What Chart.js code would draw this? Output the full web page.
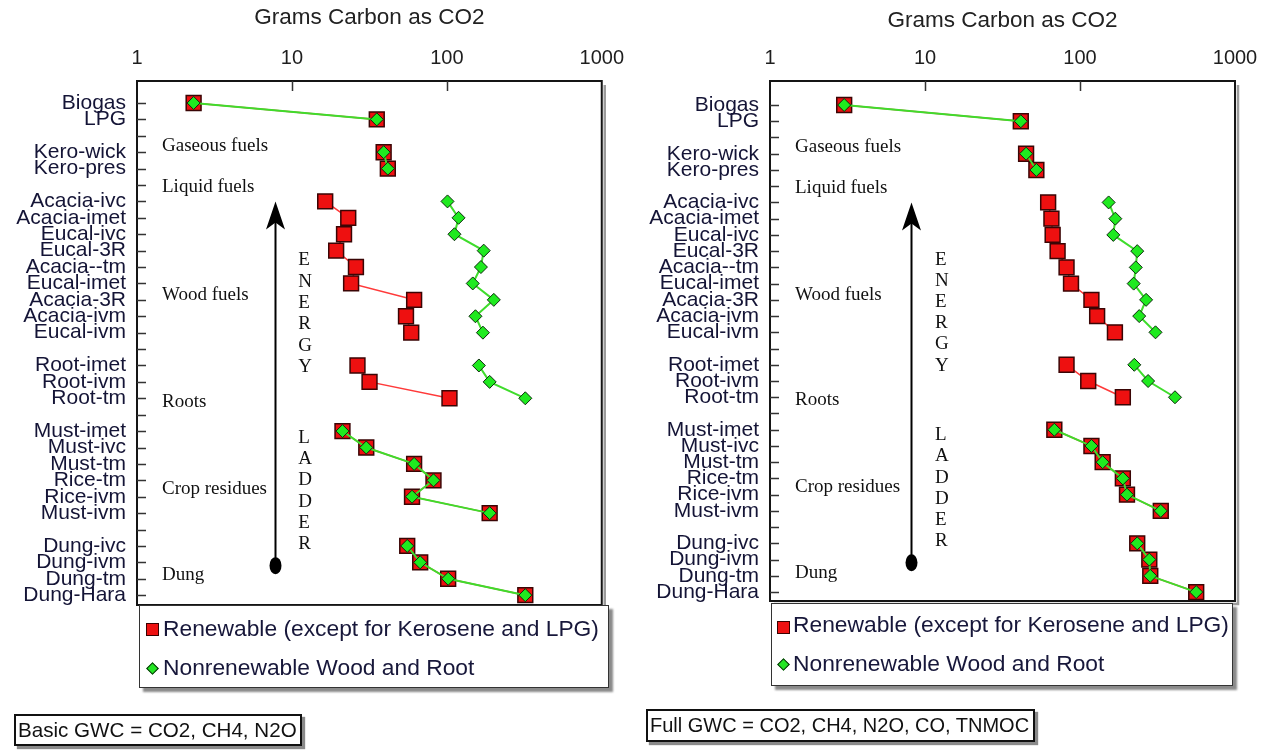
<!DOCTYPE html>
<html>
<head>
<meta charset="utf-8">
<script src="https://cdn.jsdelivr.net/npm/chart.js@4.4.1/dist/chart.umd.min.js"></script>
<style>
  body { margin: 0; background: #fff; width: 1270px; height: 750px; position: relative; overflow: hidden;
         font-family: 'Liberation Sans', Arial, sans-serif; }
  canvas { position: absolute; top: 0; }
  .legend { position: absolute; background: #fff; border: 1.5px solid #333; box-shadow: 4px 4px 2px #8a8a8a; box-sizing: border-box; }
  .item { position: absolute; font-size: 22.8px; color: #17173a; white-space: nowrap; line-height: 24px; height: 24px; }
  .sq { position: absolute; width: 13px; height: 13px; background: #ee1111; border: 1px solid #3a0000; box-sizing: border-box; }
  .dm { position: absolute; width: 9px; height: 9px; background: #22e622; border: 1px solid #0a2a0a; transform: rotate(45deg); box-sizing: border-box; }
  .gwc { position: absolute; background: #fff; border: 2px solid #111; box-shadow: 3px 3px 1px #8a8a8a; box-sizing: border-box;
         font-size: 20.6px; color: #111; line-height: 28px; padding-left: 2px; white-space: nowrap; }
</style>
</head>
<body>
<canvas id="basic" width="635" height="750" style="left:0"></canvas>
<canvas id="full" width="635" height="750" style="left:635px"></canvas>

<div class="legend" style="left:139px;top:605px;width:470px;height:83px">
  <div class="sq" style="left:6px;top:17px"></div>
  <div class="item" style="left:23px;top:10px">Renewable (except for Kerosene and LPG)</div>
  <div class="dm" style="left:8px;top:58px"></div>
  <div class="item" style="left:23px;top:49px">Nonrenewable Wood and Root</div>
</div>
<div class="legend" style="left:771px;top:603px;width:462px;height:83px">
  <div class="sq" style="left:5px;top:17px"></div>
  <div class="item" style="left:21px;top:8px">Renewable (except for Kerosene and LPG)</div>
  <div class="dm" style="left:7px;top:56px"></div>
  <div class="item" style="left:21px;top:47px">Nonrenewable Wood and Root</div>
</div>

<div class="gwc" style="left:14px;top:714px;width:288px;height:32px">Basic GWC = CO2, CH4, N2O</div>
<div class="gwc" style="left:646px;top:709px;width:389px;height:33px;font-size:20px">Full GWC = CO2, CH4, N2O, CO, TNMOC</div>

<script>
// Fuel rows, top to bottom; empty strings are spacer rows between fuel groups
const fuelLabels = ['Biogas', 'LPG', '', 'Kero-wick', 'Kero-pres', '',
  'Acacia-ivc', 'Acacia-imet', 'Eucal-ivc', 'Eucal-3R', 'Acacia--tm', 'Eucal-imet', 'Acacia-3R', 'Acacia-ivm', 'Eucal-ivm', '',
  'Root-imet', 'Root-ivm', 'Root-tm', '',
  'Must-imet', 'Must-ivc', 'Must-tm', 'Rice-tm', 'Rice-ivm', 'Must-ivm', '',
  'Dung-ivc', 'Dung-ivm', 'Dung-tm', 'Dung-Hara'];

const xTickValues = [1, 10, 100, 1000];

// Basic GWC (CO2, CH4, N2O), grams carbon as CO2
const basicRenewable = [2.32, 35.3, null, 39.1, 41.6, null,
  16.4, 23.1, 21.7, 19.3, 25.9, 24.1, 61.5, 54.5, 58.9, null,
  26.5, 31.7, 104, null,
  21.2, 30.2, 61.5, 82, 59.6, 189, null,
  55.5, 67.3, 102, 321];
const basicNonrenewable = [2.32, 35.3, null, 39.1, 41.6, null,
  101, 119, 112, 173, 166, 147, 201, 153, 171, null,
  161, 189, 321, null,
  21.2, 30.2, 61.5, 82, 59.6, 189, null,
  55.5, 67.3, 102, 321];

// Full GWC (CO2, CH4, N2O, CO, TNMOC), grams carbon as CO2
const fullRenewable = [3.01, 41.5, null, 44.9, 52.3, null,
  62.3, 65.4, 66.6, 71.7, 81.9, 87.5, 118.5, 129, 168, null,
  81.9, 113, 189, null,
  68.3, 118.5, 140, 189, 201, 332, null,
  234, 280, 284, 562];
const fullNonrenewable = [3.01, 41.5, null, 44.9, 52.3, null,
  153, 169, 164, 234, 229, 222, 267, 241, 307, null,
  224, 275, 410, null,
  68.3, 118.5, 140, 189, 201, 332, null,
  234, 280, 284, 562];

const groupNotes = [
  { text: 'Gaseous fuels', row: 2.6 },
  { text: 'Liquid fuels', row: 5.1 },
  { text: 'Wood fuels', row: 11.7 },
  { text: 'Roots', row: 18.2 },
  { text: 'Crop residues', row: 23.5 },
  { text: 'Dung', row: 28.8 }
];
const ladderWords = ['ENERGY', 'LADDER'];

const SANS = "'Liberation Sans', Arial, sans-serif";
const SERIF = "'Liberation Serif', 'Times New Roman', serif";

const toPoints = arr => arr.map((v, i) => ({ x: v, y: i }));

// Frame with shadow, inward tick marks, group notes and the energy ladder arrow
const panelDecor = {
  id: 'panelDecor',
  beforeDatasetsDraw(chart, args, opts) {
    const { ctx, chartArea: { left, top, right, bottom }, scales: { x, y } } = chart;
    ctx.save();
    ctx.strokeStyle = '#9c9c9c';
    ctx.lineWidth = 2.5;
    ctx.beginPath();
    ctx.moveTo(right + 3, top + 4);
    ctx.lineTo(right + 3, bottom + 3);
    ctx.lineTo(left + 4, bottom + 3);
    ctx.stroke();
    ctx.strokeStyle = '#151515';
    ctx.lineWidth = 2;
    ctx.strokeRect(left, top, right - left, bottom - top);

    ctx.lineWidth = 1.5;
    ctx.strokeStyle = '#333';
    ctx.beginPath();
    y.ticks.forEach(t => {
      const py = Math.round(y.getPixelForValue(t.value)) + 0.5;
      ctx.moveTo(left, py); ctx.lineTo(left + 9, py);
    });
    x.ticks.forEach(t => {
      if (t.value === x.min || t.value === x.max) return;
      const px = Math.round(x.getPixelForValue(t.value)) + 0.5;
      ctx.moveTo(px, top); ctx.lineTo(px, top + 10);
    });
    ctx.stroke();

    ctx.fillStyle = '#111';
    ctx.font = '19px ' + SERIF;
    ctx.textAlign = 'left';
    ctx.textBaseline = 'middle';
    const nx = x.getPixelForValue(opts.noteX);
    groupNotes.forEach(n => ctx.fillText(n.text, nx, y.getPixelForValue(n.row)));

    const lx = x.getPixelForValue(opts.letterX);
    let row = opts.letterStart;
    ladderWords.forEach((w, wi) => {
      if (wi > 0) row += opts.wordGap;
      [...w].forEach(ch => { ctx.fillText(ch, lx, y.getPixelForValue(row)); row += opts.letterStep; });
    });

    const ax = Math.round(x.getPixelForValue(opts.arrowX)) + 0.5;
    const tipY = y.getPixelForValue(opts.arrowTop);
    const baseY = y.getPixelForValue(opts.arrowBottom);
    ctx.strokeStyle = '#000';
    ctx.lineWidth = 2;
    ctx.beginPath(); ctx.moveTo(ax, tipY + 18); ctx.lineTo(ax, baseY); ctx.stroke();
    ctx.fillStyle = '#000';
    ctx.beginPath();
    ctx.moveTo(ax, tipY);
    ctx.lineTo(ax + 9.5, tipY + 28);
    ctx.lineTo(ax, tipY + 21);
    ctx.lineTo(ax - 9.5, tipY + 28);
    ctx.closePath();
    ctx.fill();
    ctx.beginPath();
    ctx.ellipse(ax, baseY, 6, 8.5, 0, 0, Math.PI * 2);
    ctx.fill();
    ctx.restore();
  }
};

function makePanel(id, renew, nonrenew, geom) {
  return new Chart(document.getElementById(id), {
    type: 'scatter',
    data: {
      datasets: [
        {
          label: 'Nonrenewable Wood and Root',
          data: toPoints(nonrenew),
          showLine: true,
          spanGaps: false,
          borderColor: '#3fdc2c',
          borderWidth: 2,
          pointStyle: 'rectRot',
          pointRadius: 6.5,
          pointBackgroundColor: '#1fea1f',
          pointBorderColor: '#0c2a0c',
          pointBorderWidth: 1,
          order: 0
        },
        {
          label: 'Renewable (except for Kerosene and LPG)',
          data: toPoints(renew),
          showLine: true,
          spanGaps: false,
          borderColor: '#ff3a3a',
          borderWidth: 1.5,
          pointStyle: 'rect',
          pointRadius: 10.5,
          pointBackgroundColor: '#ee1010',
          pointBorderColor: '#3a0505',
          pointBorderWidth: 1.5,
          order: 1
        }
      ]
    },
    options: {
      responsive: false,
      animation: false,
      layout: { padding: { left: 0, top: 0, right: geom.padRight, bottom: geom.padBottom } },
      plugins: {
        legend: { display: false },
        tooltip: { enabled: false },
        panelDecor: geom.decor
      },
      scales: {
        x: {
          type: 'logarithmic',
          position: 'top',
          min: 1,
          max: 1000,
          afterBuildTicks: s => { s.ticks = xTickValues.map(v => ({ value: v })); },
          afterFit: s => { s.height = geom.top; },
          grid: { display: false, drawTicks: false },
          border: { display: false },
          ticks: {
            autoSkip: false, maxRotation: 0, padding: 11,
            color: '#1e1e1e', font: { family: SANS, size: 20 },
            callback: v => String(v)
          },
          title: {
            display: true, text: 'Grams Carbon as CO2', color: '#222',
            font: { family: SANS, size: 22.5 }, padding: { top: geom.titleTop, bottom: 0 }
          }
        },
        y: {
          type: 'linear',
          reverse: true,
          min: geom.yMin,
          max: geom.yMax,
          afterBuildTicks: s => { s.ticks = fuelLabels.map((_, i) => ({ value: i })); },
          afterFit: s => { s.width = geom.left; },
          grid: { display: false, drawTicks: false },
          border: { display: false },
          ticks: {
            autoSkip: false, padding: 11, color: '#141436',
            font: { family: SANS, size: 21 },
            callback: (v, i) => fuelLabels[i]
          }
        }
      }
    },
    plugins: [panelDecor]
  });
}

makePanel('basic', basicRenewable, basicNonrenewable, {
  left: 137, top: 81, padRight: 26, padBottom: 145, titleTop: 4,
  yMin: -1.34, yMax: 30.6,
  decor: { noteX: 1.45, letterX: 11.0, letterStart: 9.6, letterStep: 1.3, wordGap: 3.0, arrowX: 7.8, arrowTop: 6.0, arrowBottom: 28.2 }
});

makePanel('full', fullRenewable, fullNonrenewable, {
  left: 135, top: 81, padRight: 35, padBottom: 149, titleTop: 7,
  yMin: -1.48, yMax: 30.55,
  decor: { noteX: 1.45, letterX: 11.6, letterStart: 9.55, letterStep: 1.3, wordGap: 3.0, arrowX: 8.1, arrowTop: 6.0, arrowBottom: 28.2 }
});
</script>
</body>
</html>
